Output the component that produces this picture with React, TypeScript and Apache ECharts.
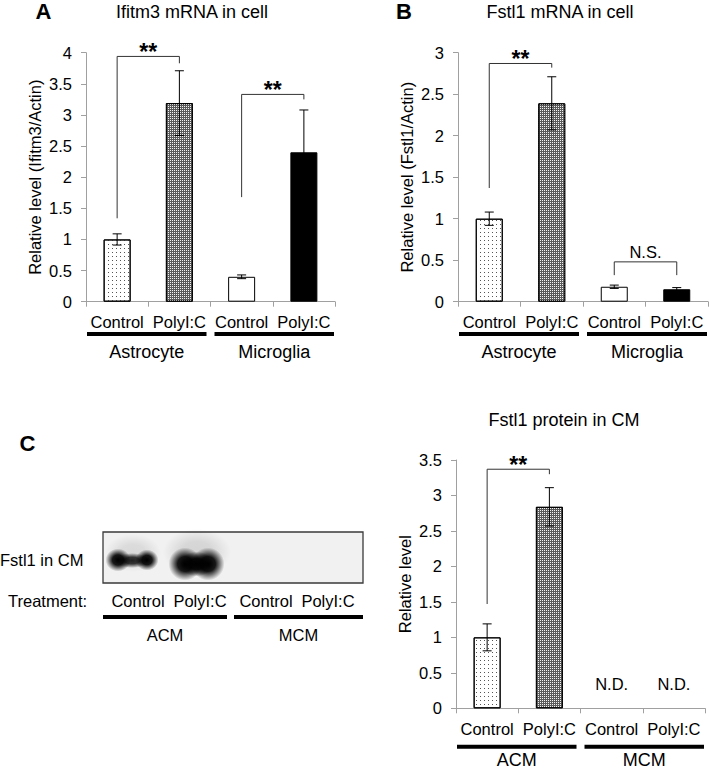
import React, { useEffect, useRef } from 'react';
import * as echarts from 'echarts';

const FONT = '"Liberation Sans", Arial, Helvetica, sans-serif';

// ---- data ----
const conditions = ['Control', 'PolyI:C', 'Control', 'PolyI:C'];
const cellGroups = ['Astrocyte', 'Microglia'];
const mediumGroups = ['ACM', 'MCM'];

const ifitm3Mean = [1.0, 3.19, 0.4, 2.4];
const ifitm3Err = [0.09, 0.52, 0.03, 0.68];
const fstl1Mean = [1.0, 2.39, 0.18, 0.15];
const fstl1Err = [0.08, 0.32, 0.02, 0.02];
const proteinMean = [1.0, 2.84, 0, 0];
const proteinErr = [0.19, 0.27, 0, 0];
const proteinDetected = [true, true, false, false];

// brackets: [fromIndex, toIndex, leftFootValue, topValue, rightFootValue]
const ifitm3Brackets = [[0, 1, 1.34, 3.94, 3.83], [2, 3, 1.68, 3.33, 3.25]];
const ifitm3Marks = ['**', '**'];
const fstl1Brackets = [[0, 1, 1.37, 2.87, 2.82], [2, 3, 0.32, 0.48, 0.32]];
const fstl1Marks = ['**', 'N.S.'];
const proteinBrackets = [[0, 1, 1.47, 3.37, 3.3]];
const proteinMarks = ['**'];

const blotLanes = ['Control', 'PolyI:C', 'Control', 'PolyI:C'];

// ---- styles ----
const FS = 16.5;
const fills: any[] = [
  { color: '#ffffff', decal: { symbol: 'rect', symbolSize: 1, color: '#555555', dashArrayX: [1, 3], dashArrayY: [1, 3] } },
  { color: '#5a5a5a', decal: { symbol: 'rect', symbolSize: 1, color: '#f4f4f4', dashArrayX: [1, 1], dashArrayY: [1, 1] } },
  { color: '#ffffff' },
  { color: '#000000' },
];

const panels = [
  {
    letter: 'A', title: 'Ifitm3 mRNA in cell', yName: 'Relative level (Ifitm3/Actin)',
    mean: ifitm3Mean, err: ifitm3Err, brackets: ifitm3Brackets, marks: ifitm3Marks, groups: cellGroups,
    max: 4, left: 86, top: 52.7, width: 249, height: 249, lineDy: 32.3, groupDy: 50.3,
    titleX: 192, titleY: 11.5, letterX: 43.5, letterY: 11.5, detected: [true, true, true, true],
  },
  {
    letter: 'B', title: 'Fstl1 mRNA in cell', yName: 'Relative level (Fstl1/Actin)',
    mean: fstl1Mean, err: fstl1Err, brackets: fstl1Brackets, marks: fstl1Marks, groups: cellGroups,
    max: 3, left: 458, top: 52.7, width: 250, height: 249, lineDy: 32.3, groupDy: 50.3,
    titleX: 560, titleY: 11.5, letterX: 404, letterY: 11.5, detected: [true, true, true, true],
  },
  {
    letter: 'C', title: 'Fstl1 protein in CM', yName: 'Relative level',
    mean: proteinMean, err: proteinErr, brackets: proteinBrackets, marks: proteinMarks, groups: mediumGroups,
    max: 3.5, left: 456, top: 460, width: 249, height: 248.3, lineDy: 38.4, groupDy: 51.5,
    titleX: 564, titleY: 420, letterX: 27.5, letterY: 443, detected: proteinDetected,
  },
];

const AXIS_GRAY = '#a0a0a0';

function blackFade(alpha: number) {
  return {
    type: 'radial', x: 0.5, y: 0.5, r: 0.5,
    colorStops: [
      { offset: 0, color: `rgba(0,0,0,${alpha})` },
      { offset: 0.45, color: `rgba(0,0,0,${alpha * 0.9})` },
      { offset: 0.78, color: `rgba(0,0,0,${alpha * 0.35})` },
      { offset: 1, color: 'rgba(0,0,0,0)' },
    ],
  };
}

function buildOption() {
  const grid = panels.map((p) => ({ left: p.left, top: p.top, width: p.width, height: p.height }));
  const xAxis = panels.map((p, i) => ({
    type: 'category', gridIndex: i, data: conditions,
    axisLine: { lineStyle: { color: AXIS_GRAY, width: 1 } },
    axisTick: { show: true, length: 5, lineStyle: { color: AXIS_GRAY } },
    axisLabel: { color: '#000', fontSize: FS, fontFamily: FONT, margin: 12, interval: 0 },
  }));
  const yAxis = panels.map((p, i) => ({
    type: 'value', gridIndex: i, min: 0, max: p.max, interval: 0.5,
    name: p.yName, nameLocation: 'middle', nameGap: 43,
    nameTextStyle: { color: '#000', fontSize: FS, fontFamily: FONT },
    axisLine: { show: true, lineStyle: { color: AXIS_GRAY, width: 1 } },
    axisTick: { show: true, length: 5, lineStyle: { color: AXIS_GRAY } },
    splitLine: { show: false },
    axisLabel: { color: '#000', fontSize: FS, fontFamily: FONT, margin: 14 },
  }));

  const series: any[] = [];
  panels.forEach((p, i) => {
    series.push({
      type: 'bar', xAxisIndex: i, yAxisIndex: i, barWidth: 27,
      data: p.mean.map((v, k) => ({
        value: v,
        itemStyle: { ...fills[k], borderColor: '#000', borderWidth: p.detected[k] ? 1 : 0 },
        label: p.detected[k]
          ? { show: false }
          : { show: true, position: 'top', distance: 16, formatter: 'N.D.', color: '#000', fontSize: FS, fontFamily: FONT },
      })),
    });
    series.push({
      type: 'custom', xAxisIndex: i, yAxisIndex: i, z: 5,
      encode: { x: 0, y: 1 },
      data: p.mean.map((m, k) => [k, m, p.err[k]]),
      renderItem: (params: any, api: any) => {
        const x = api.value(0), m = api.value(1), e = api.value(2);
        if (!(e > 0)) return null;
        const t = api.coord([x, m + e]);
        const b = api.coord([x, m - e]);
        const w = 4.5;
        const st = { stroke: '#000', lineWidth: 1 };
        return {
          type: 'group', children: [
            { type: 'line', shape: { x1: t[0], y1: t[1], x2: b[0], y2: b[1] }, style: st },
            { type: 'line', shape: { x1: t[0] - w, y1: t[1], x2: t[0] + w, y2: t[1] }, style: st },
            { type: 'line', shape: { x1: b[0] - w, y1: b[1], x2: b[0] + w, y2: b[1] }, style: st },
          ],
        };
      },
    });
    series.push({
      type: 'custom', xAxisIndex: i, yAxisIndex: i, z: 6,
      encode: { x: 0, y: 3 },
      data: p.brackets,
      renderItem: (params: any, api: any) => {
        const x1 = api.value(0), x2 = api.value(1);
        const yl = api.value(2), yt = api.value(3), yr = api.value(4);
        const a = api.coord([x1, yl]);
        const b = api.coord([x1, yt]);
        const c = api.coord([x2, yt]);
        const d = api.coord([x2, yr]);
        const mark = p.marks[params.dataIndex];
        const isStar = mark === '**';
        return {
          type: 'group', children: [
            { type: 'polyline', shape: { points: [a, b, c, d] }, style: { stroke: '#333', lineWidth: 1, fill: 'none' } },
            {
              type: 'text', x: (b[0] + c[0]) / 2, y: isStar ? b[1] + 7 : b[1] - 1,
              style: {
                text: mark, align: 'center', verticalAlign: 'bottom',
                font: isStar ? `bold 23px ${FONT}` : `${FS}px ${FONT}`, fill: '#000',
              },
            },
          ],
        };
      },
    });
  });

  const graphic: any[] = [];
  panels.forEach((p) => {
    graphic.push({ type: 'text', x: p.titleX, y: p.titleY, style: { text: p.title, font: `18px ${FONT}`, fill: '#000', align: 'center', verticalAlign: 'middle' } });
    graphic.push({ type: 'text', x: p.letterX, y: p.letterY, style: { text: p.letter, font: `bold 22px ${FONT}`, fill: '#000', align: 'center', verticalAlign: 'middle' } });
    const bottom = p.top + p.height;
    const mid = p.left + p.width / 2;
    const spans = [[p.left + 1, mid - 4], [mid + 4, p.left + p.width - 1]];
    spans.forEach((s, g) => {
      graphic.push({ type: 'rect', shape: { x: s[0], y: bottom + p.lineDy - 2, width: s[1] - s[0], height: 4 }, style: { fill: '#000' } });
      graphic.push({ type: 'text', x: (s[0] + s[1]) / 2, y: bottom + p.groupDy, style: { text: p.groups[g], font: `18px ${FONT}`, fill: '#000', align: 'center', verticalAlign: 'middle' } });
    });
  });

  // Western blot (panel C, left)
  const blot = { x: 103, y: 532, w: 260, h: 51 };
  const laneX = [138, 200, 266, 328];
  graphic.push({ type: 'text', x: 0, y: 560, style: { text: 'Fstl1 in CM', font: `${FS}px ${FONT}`, fill: '#000', align: 'left', verticalAlign: 'middle' } });
  graphic.push({ type: 'text', x: 8, y: 601, style: { text: 'Treatment:', font: `${FS}px ${FONT}`, fill: '#000', align: 'left', verticalAlign: 'middle' } });
  graphic.push({ type: 'rect', shape: { x: blot.x, y: blot.y, width: blot.w, height: blot.h }, style: { fill: '#f1f1f1', stroke: '#3a3a3a', lineWidth: 1.3 } });
  // faint haze
  graphic.push({ type: 'ellipse', shape: { cx: 133, cy: 553, rx: 28, ry: 19 }, style: { fill: blackFade(0.1) } });
  graphic.push({ type: 'ellipse', shape: { cx: 197, cy: 552, rx: 34, ry: 23 }, style: { fill: blackFade(0.12) } });
  // control band
  graphic.push({ type: 'ellipse', shape: { cx: 132, cy: 560.5, rx: 17, ry: 7.5 }, style: { fill: blackFade(0.85) } });
  graphic.push({ type: 'ellipse', shape: { cx: 118, cy: 560, rx: 12.5, ry: 11.5 }, style: { fill: blackFade(1) } });
  graphic.push({ type: 'ellipse', shape: { cx: 147, cy: 560, rx: 11.5, ry: 10.5 }, style: { fill: blackFade(1) } });
  // PolyI:C band
  graphic.push({ type: 'ellipse', shape: { cx: 196.5, cy: 564, rx: 17, ry: 12.5 }, style: { fill: blackFade(1) } });
  graphic.push({ type: 'ellipse', shape: { cx: 185, cy: 564, rx: 16.5, ry: 16.5 }, style: { fill: blackFade(1) } });
  graphic.push({ type: 'ellipse', shape: { cx: 208, cy: 564, rx: 16.5, ry: 16.5 }, style: { fill: blackFade(1) } });
  blotLanes.forEach((t, k) => {
    graphic.push({ type: 'text', x: laneX[k], y: 601, style: { text: t, font: `${FS}px ${FONT}`, fill: '#000', align: 'center', verticalAlign: 'middle' } });
  });
  const blotSpans = [[103, 227], [234, 363]];
  blotSpans.forEach((s, g) => {
    graphic.push({ type: 'rect', shape: { x: s[0], y: 615, width: s[1] - s[0], height: 4 }, style: { fill: '#000' } });
    graphic.push({ type: 'text', x: (s[0] + s[1]) / 2, y: 635, style: { text: mediumGroups[g], font: `${FS}px ${FONT}`, fill: '#000', align: 'center', verticalAlign: 'middle' } });
  });

  return {
    animation: false,
    backgroundColor: '#ffffff',
    textStyle: { fontFamily: FONT },
    grid, xAxis, yAxis, series, graphic,
  };
}

export default function App() {
  const ref = useRef<HTMLDivElement>(null);
  useEffect(() => {
    if (!ref.current) return;
    const chart = echarts.init(ref.current, null, { renderer: 'svg', width: 709, height: 770 });
    chart.setOption(buildOption() as any);
    return () => chart.dispose();
  }, []);
  return <div ref={ref} style={{ position: 'absolute', left: 0, top: 0, width: 709, height: 770 }} />;
}
